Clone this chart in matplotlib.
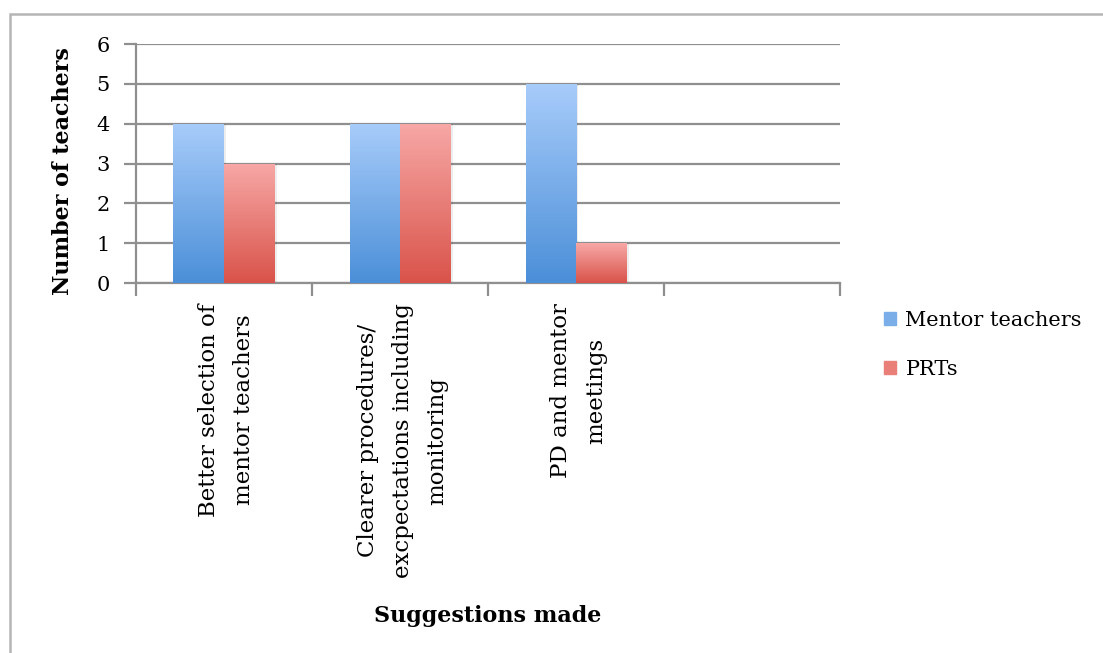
import numpy as np
import matplotlib
matplotlib.use("Agg")
import matplotlib.pyplot as plt
from matplotlib.colors import LinearSegmentedColormap
from matplotlib.patches import Rectangle
from matplotlib.transforms import blended_transform_factory

plt.rcParams["font.family"] = ["DejaVu Serif"]

# data
categories = ["Better selection of\nmentor teachers",
              "Clearer procedures/\nexcpectations including\nmonitoring",
              "PD and mentor\nmeetings",
              ""]
mentor = [4, 4, 5, 0]
prts = [3, 4, 1, 0]
series_names = ["Mentor teachers", "PRTs"]

blue_cmap = LinearSegmentedColormap.from_list("b", ["#4b8fd8", "#a8ccfa"])
red_cmap = LinearSegmentedColormap.from_list("r", ["#d9534a", "#f7a8a6"])

fig = plt.figure(figsize=(11.03, 6.53), dpi=100)
ax = fig.add_axes([0.1233, 0.5666, 0.6383, 0.366])

grey = "#8f8f8f"
x = np.arange(len(categories)) + 0.5
w = 0.287


def gradient_bars(xs, vals, cmap, label):
    bars = ax.bar(xs, vals, w, color=cmap(0.5), label=label, zorder=3)
    grad = np.linspace(0, 1, 256).reshape(-1, 1)
    for b in bars:
        if b.get_height() <= 0:
            continue
        x0, y0 = b.get_x(), b.get_y()
        # soft shadow on the right side
        ax.add_patch(Rectangle((x0 + 0.012, y0), b.get_width(), b.get_height(),
                               color="#000000", alpha=0.07, lw=0, zorder=2))
        im = ax.imshow(grad, cmap=cmap, origin="lower", aspect="auto",
                       extent=[x0, x0 + b.get_width(), y0, y0 + b.get_height()],
                       zorder=4)
        im.set_clip_path(b)
    return bars


gradient_bars(x - w / 2, mentor, blue_cmap, series_names[0])
gradient_bars(x + w / 2, prts, red_cmap, series_names[1])

ax.set_xlim(0, 4)
ax.set_ylim(0, 6)
ax.set_yticks(range(7))
ax.set_xticks(range(5))
ax.set_xticklabels([])
ax.grid(axis="y", color=grey, linewidth=1.6, zorder=0)
for s in ["top", "right"]:
    ax.spines[s].set_visible(False)
for s in ["left", "bottom"]:
    ax.spines[s].set_color(grey)
    ax.spines[s].set_linewidth(1.6)
ax.tick_params(axis="both", color=grey, width=1.6, length=9, direction="out",
               labelsize=15, pad=10)

trans = blended_transform_factory(ax.transData, ax.transAxes)
for xi, lab in zip(x, categories):
    ax.text(xi + 0.015, -0.085, lab, rotation=90, ha="center", va="top",
            fontsize=16.5, transform=trans, linespacing=1.75)

fig.text(0.057, 0.738, "Number of teachers", rotation=90, ha="center",
         va="center", fontsize=16, fontweight="bold")
fig.text(0.4425, 0.057, "Suggestions made", ha="center", va="center",
         fontsize=16, fontweight="bold")

# legend
handles = [Rectangle((0, 0), 1, 1, color="#7aaee9"),
           Rectangle((0, 0), 1, 1, color="#ea7f7a")]
fig.legend(handles, series_names, loc="upper left",
           bbox_to_anchor=(0.784, 0.553), frameon=False, fontsize=15,
           handlelength=0.6, handleheight=0.6, handletextpad=0.45,
           labelspacing=1.45)

# outer chart frame (top and left edges visible)
fig.patches.append(Rectangle((0.0095, -0.05), 1.2, 1.0285, fill=False,
                             edgecolor="#b5b5b5", linewidth=1.8,
                             transform=fig.transFigure))

fig.savefig("out.png", dpi=100)
